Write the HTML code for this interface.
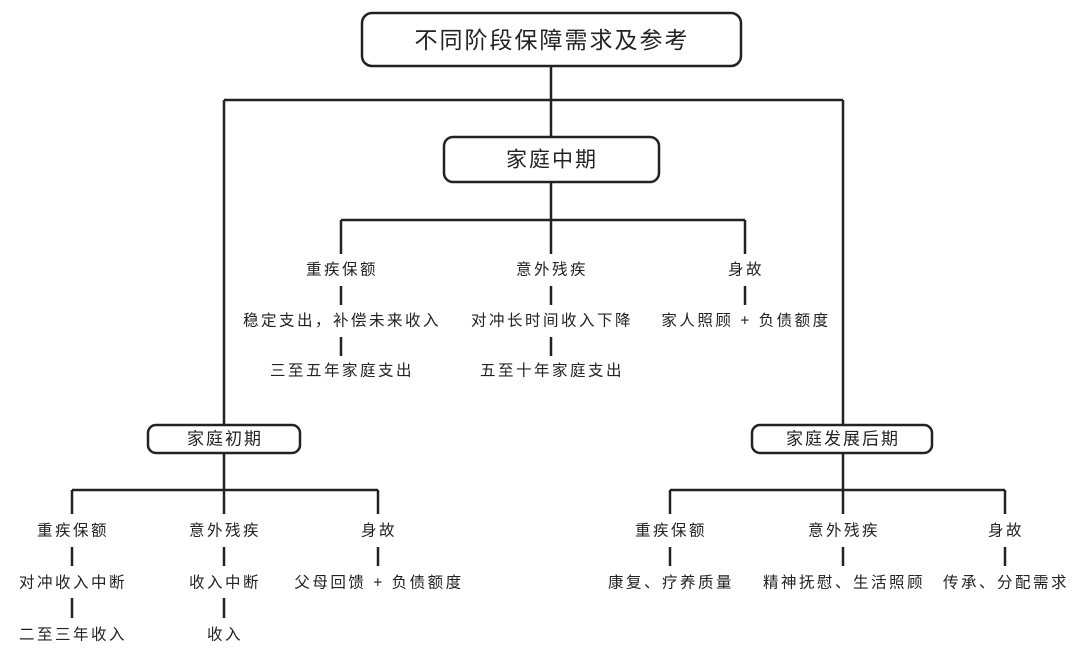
<!DOCTYPE html>
<html><head><meta charset="utf-8"><style>
body{margin:0;background:#fff;}
svg text{font-family:"Liberation Sans","Noto Sans CJK SC",sans-serif;fill:#222;text-anchor:middle;dominant-baseline:central;}
</style></head><body>
<svg width="1080" height="652" viewBox="0 0 1080 652" xmlns="http://www.w3.org/2000/svg">
<g stroke="#222" stroke-width="2.5" fill="none">
<rect x="362" y="13" width="379" height="53" rx="10"/>
<rect x="444" y="137" width="215" height="45" rx="9"/>
<rect x="148" y="425" width="152" height="28" rx="8"/>
<rect x="752" y="425" width="180" height="28" rx="8"/>
<path d="M551 66V137M224 100H843M224 100V425M843 100V425"/>
<path d="M551 182V220M341 220H745M341 220V254M551 220V254M745 220V254"/>
<path d="M341 286V305M551 286V305M745 286V305M341 337V356M551 337V356"/>
<path d="M224 453V490M72 490H378M72 490V514M224 490V514M378 490V514"/>
<path d="M72 547V566M224 547V566M378 547V566M72 598V618M224 598V618"/>
<path d="M843 453V490M670 490H1005M670 490V514M843 490V514M1005 490V514"/>
<path d="M670 547V566M843 547V566M1005 547V566"/>
</g>
<text x="552" y="40" font-size="23" letter-spacing="2">不同阶段保障需求及参考</text>
<text x="552" y="160" font-size="21" letter-spacing="2">家庭中期</text>
<text x="225" y="439" font-size="17" letter-spacing="2">家庭初期</text>
<text x="843" y="439" font-size="17" letter-spacing="2">家庭发展后期</text>
<g font-size="15.5" letter-spacing="2.5">
<text x="342" y="270">重疾保额</text>
<text x="552" y="270">意外残疾</text>
<text x="746" y="270">身故</text>
<text x="342" y="321">稳定支出，补偿未来收入</text>
<text x="552" y="321">对冲长时间收入下降</text>
<text x="746" y="321">家人照顾 + 负债额度</text>
<text x="342" y="371">三至五年家庭支出</text>
<text x="552" y="371">五至十年家庭支出</text>
<text x="73" y="531">重疾保额</text>
<text x="225" y="531">意外残疾</text>
<text x="379" y="531">身故</text>
<text x="73" y="583">对冲收入中断</text>
<text x="225" y="583">收入中断</text>
<text x="379" y="583">父母回馈 + 负债额度</text>
<text x="73" y="635">二至三年收入</text>
<text x="225" y="635">收入</text>
<text x="671" y="531">重疾保额</text>
<text x="844" y="531">意外残疾</text>
<text x="1006" y="531">身故</text>
<text x="671" y="583">康复、疗养质量</text>
<text x="844" y="583">精神抚慰、生活照顾</text>
<text x="1006" y="583">传承、分配需求</text>
</g>
</svg>
</body></html>
